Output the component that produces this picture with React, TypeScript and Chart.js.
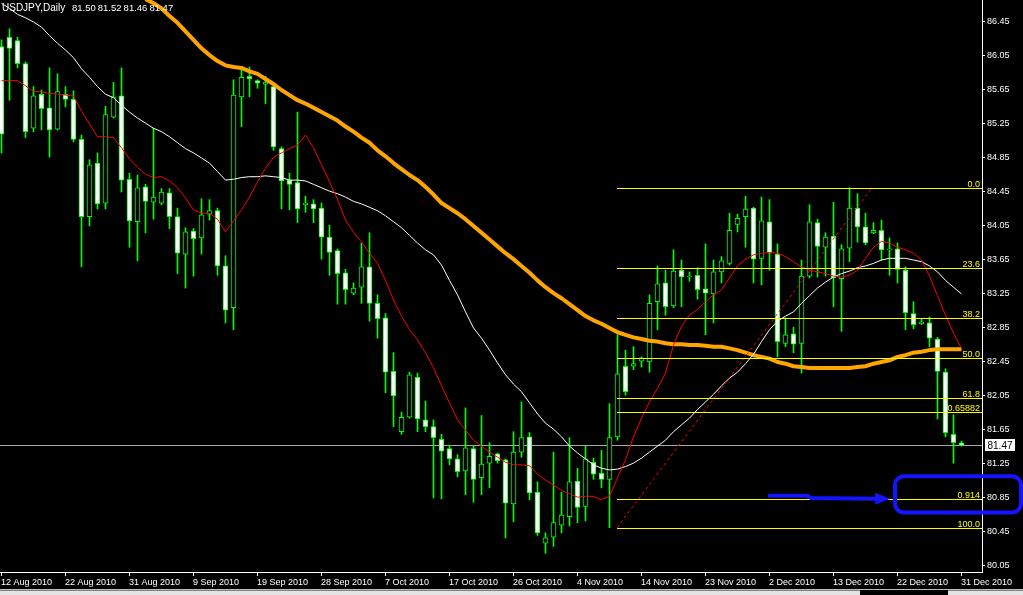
import React, { useEffect, useRef } from "react";
import { Chart, registerables } from "chart.js";

Chart.register(...registerables);

// ---------- data ----------
const symbol = "USDJPY,Daily";
const lastQuote = ["81.50", "81.52", "81.46", "81.47"];
const dateLabels = [
  "12 Aug 2010", "22 Aug 2010", "31 Aug 2010", "9 Sep 2010", "19 Sep 2010", "28 Sep 2010",
  "7 Oct 2010", "17 Oct 2010", "26 Oct 2010", "4 Nov 2010", "14 Nov 2010", "23 Nov 2010",
  "2 Dec 2010", "13 Dec 2010", "22 Dec 2010", "31 Dec 2010",
];
const dateLabelStep = 8;
const yTickValues = [80.05, 80.45, 80.85, 81.25, 81.65, 82.05, 82.45, 82.85, 83.25, 83.65, 84.05, 84.45, 84.85, 85.25, 85.65, 86.05, 86.45];

const opens = [
  86.16, 86.27, 86.23, 85.96, 85.20, 85.60, 85.44, 85.19, 85.60, 85.54,
  85.07, 84.16, 84.79, 84.32, 85.33, 85.58, 84.60, 84.10, 84.51, 84.33,
  84.32, 84.44, 84.16, 83.72, 83.99, 83.91, 84.19, 84.23, 83.58, 83.09,
  85.57, 85.81, 85.76, 85.72, 85.69, 84.96, 84.59, 84.56, 84.30, 84.31,
  84.26, 83.92, 83.76, 83.50, 83.26, 83.33, 83.57, 83.14, 82.97, 82.34,
  81.63, 81.80, 82.27, 81.77, 81.69, 81.54, 81.43, 81.31, 81.17, 81.43,
  81.09, 81.26, 81.37, 81.30, 80.78, 81.39, 81.57, 80.92, 80.32, 80.39,
  80.53, 80.63, 81.05, 80.75, 81.27, 81.14, 81.07, 81.57, 82.40, 82.40,
  82.46, 82.45, 83.16, 83.38, 83.11, 83.53, 83.45, 83.47, 83.31, 83.25,
  83.51, 83.61, 84.07, 84.16, 84.26, 83.67, 84.10, 83.72, 82.67, 82.78,
  82.67, 83.46, 84.09, 83.80, 83.93, 83.43, 83.79, 84.26, 84.04, 83.97,
  84.00, 83.77, 83.78, 83.53, 83.02, 82.90, 82.91, 82.72, 82.33, 81.60,
  81.50,
];
const highs = [
  86.24, 86.37, 86.27, 85.98, 85.69, 85.65, 85.91, 85.84, 85.69, 85.64,
  85.12, 84.83, 84.91, 85.46, 85.74, 85.91, 84.67, 84.65, 84.54, 85.20,
  84.49, 84.49, 84.26, 84.03, 84.02, 84.37, 84.36, 84.26, 83.70, 85.77,
  85.92, 85.92, 85.77, 85.81, 85.71, 84.98, 84.67, 85.39, 84.40, 84.36,
  84.32, 84.06, 83.78, 83.54, 83.38, 83.85, 83.97, 83.24, 83.02, 82.56,
  81.86, 82.33, 82.32, 81.99, 81.77, 81.60, 81.47, 81.36, 81.91, 81.47,
  81.82, 81.50, 81.38, 81.31, 81.63, 81.98, 81.62, 81.04, 80.44, 81.39,
  80.92, 81.56, 81.20, 81.46, 81.32, 81.41, 81.96, 82.77, 82.59, 82.63,
  82.51, 83.24, 83.58, 83.53, 83.77, 83.65, 83.51, 83.56, 83.84, 83.65,
  83.69, 84.20, 84.19, 84.40, 84.27, 84.39, 84.36, 83.84, 82.97, 82.86,
  83.65, 84.30, 84.13, 83.97, 84.33, 83.83, 84.50, 84.43, 84.20, 84.09,
  84.12, 83.91, 83.85, 83.57, 83.16, 82.96, 82.98, 82.74, 82.37, 81.83,
  81.52,
];
const lows = [
  84.91, 85.53, 85.91, 85.09, 85.16, 85.18, 84.86, 85.18, 85.45, 85.04,
  83.57, 84.05, 84.25, 84.25, 85.32, 84.45, 83.80, 83.64, 83.97, 84.13,
  84.30, 84.02, 83.49, 83.32, 83.46, 83.72, 84.12, 83.47, 82.91, 82.83,
  85.22, 85.57, 85.67, 85.49, 84.94, 84.25, 84.24, 84.09, 84.21, 84.09,
  83.66, 83.47, 83.13, 83.13, 83.24, 83.14, 82.93, 82.73, 82.09, 81.69,
  81.60, 81.79, 81.63, 81.63, 80.85, 80.84, 81.24, 81.10, 80.89, 80.80,
  80.89, 80.97, 81.26, 80.38, 80.57, 81.33, 80.83, 80.41, 80.20, 80.28,
  80.44, 80.52, 80.56, 80.58, 81.07, 80.97, 80.50, 81.53, 82.06, 82.36,
  82.39, 82.33, 82.83, 83.00, 83.09, 83.10, 83.40, 83.19, 82.77, 82.91,
  83.38, 83.59, 83.98, 83.80, 83.38, 83.36, 83.53, 82.51, 82.63, 82.56,
  82.32, 83.44, 83.45, 83.46, 83.10, 82.81, 83.63, 83.86, 83.83, 83.96,
  83.65, 83.47, 83.38, 82.83, 82.84, 82.89, 82.63, 81.78, 81.57, 81.26,
  81.46,
];
const closes = [
  85.13, 86.14, 85.96, 85.16, 85.58, 85.43, 85.18, 85.63, 85.54, 85.07,
  84.16, 84.77, 84.31, 85.36, 85.57, 84.59, 84.11, 84.50, 84.34, 84.39,
  84.45, 84.16, 83.73, 83.98, 83.90, 84.18, 84.23, 83.58, 83.06, 85.59,
  85.80, 85.78, 85.73, 85.74, 84.98, 84.58, 84.54, 84.25, 84.32, 84.25,
  83.92, 83.74, 83.49, 83.30, 83.32, 83.57, 83.14, 82.96, 82.33, 82.05,
  81.80, 82.30, 81.78, 81.69, 81.56, 81.40, 81.31, 81.16, 81.44, 81.07,
  81.25, 81.34, 81.29, 80.79, 81.39, 81.56, 80.91, 80.44, 80.38, 80.56,
  80.65, 81.04, 80.74, 81.31, 81.13, 81.07, 81.56, 82.31, 82.10, 82.43,
  82.50, 83.14, 83.37, 83.10, 83.52, 83.45, 83.46, 83.30, 83.26, 83.51,
  83.64, 84.00, 84.14, 84.25, 83.66, 84.11, 83.73, 82.69, 82.77, 82.66,
  83.46, 84.10, 83.81, 83.92, 83.44, 83.78, 84.26, 84.04, 83.85, 84.00,
  83.77, 83.78, 83.54, 83.03, 82.89, 82.92, 82.73, 82.34, 81.62, 81.50,
  81.47,
];

// moving averages (red = fast, white = medium, orange = slow)
const maFast = [
  85.76, 85.76, 85.76, 85.70, 85.63, 85.63, 85.61, 85.60, 85.59, 85.58,
  85.40, 85.25, 85.10, 85.10, 85.09, 84.97, 84.84, 84.74, 84.66, 84.62,
  84.63, 84.58, 84.50, 84.38, 84.24, 84.20, 84.20, 84.13, 83.98, 84.11,
  84.24, 84.39, 84.57, 84.73, 84.86, 84.91, 84.96, 85.00, 85.12, 84.97,
  84.77, 84.57, 84.36, 84.12, 83.98, 83.86, 83.73, 83.61, 83.41, 83.18,
  82.99, 82.83, 82.71, 82.56, 82.38, 82.17, 81.97, 81.77, 81.65, 81.53,
  81.46, 81.39, 81.33, 81.27, 81.24, 81.24, 81.23, 81.13, 81.06, 81.00,
  80.94, 80.90, 80.86, 80.87, 80.87, 80.83, 80.87, 81.09, 81.30, 81.57,
  81.79, 81.98, 82.14, 82.32, 82.65, 82.87, 83.00, 83.07, 83.16, 83.24,
  83.30, 83.44, 83.58, 83.66, 83.71, 83.73, 83.74, 83.73, 83.69, 83.63,
  83.57, 83.53, 83.51, 83.49, 83.46, 83.45, 83.47, 83.53, 83.67, 83.80,
  83.87, 83.85, 83.80, 83.77, 83.73, 83.65, 83.46, 83.23, 83.00, 82.79,
  82.61,
];
const maMid = [
  86.67, 86.61, 86.54, 86.50, 86.45, 86.39, 86.29, 86.20, 86.12, 86.03,
  85.90, 85.80, 85.69, 85.60, 85.56, 85.47, 85.39, 85.32, 85.26, 85.20,
  85.16, 85.10, 85.03, 84.96, 84.91, 84.85, 84.79, 84.69, 84.59, 84.60,
  84.62, 84.63, 84.63, 84.64, 84.63, 84.62, 84.59, 84.59, 84.58, 84.54,
  84.50, 84.46, 84.43, 84.39, 84.34, 84.31, 84.27, 84.23, 84.17, 84.10,
  84.03, 83.94, 83.85, 83.77, 83.71, 83.59, 83.41, 83.24, 83.04, 82.85,
  82.73, 82.59, 82.44, 82.30, 82.19, 82.10, 81.97, 81.84, 81.73, 81.66,
  81.57, 81.46, 81.38, 81.31, 81.24, 81.20, 81.18, 81.19, 81.22, 81.26,
  81.32, 81.39, 81.46, 81.53, 81.63, 81.71, 81.79, 81.89, 81.98, 82.07,
  82.17, 82.26, 82.33, 82.43, 82.54, 82.69, 82.83, 82.93, 82.99, 83.04,
  83.14, 83.23, 83.32, 83.39, 83.45, 83.49, 83.52, 83.56, 83.58, 83.61,
  83.65, 83.67, 83.67, 83.67, 83.65, 83.63, 83.58, 83.51, 83.41, 83.33,
  83.25,
];
const maSlow = [
  null, null, null, null, null, null, null, null, null, null,
  null, null, null, null, null, null, null, null, 86.72, 86.67,
  86.61, 86.52, 86.44, 86.34, 86.24, 86.14, 86.06, 85.99, 85.94, 85.92,
  85.91, 85.87, 85.84, 85.78, 85.72, 85.65, 85.59, 85.53, 85.49, 85.44,
  85.39, 85.34, 85.29, 85.22, 85.16, 85.09, 85.03, 84.94, 84.87, 84.79,
  84.72, 84.65, 84.59, 84.51, 84.42, 84.32, 84.26, 84.20, 84.13, 84.05,
  83.97, 83.89, 83.81, 83.73, 83.66, 83.58, 83.50, 83.41, 83.33, 83.26,
  83.20, 83.13, 83.06, 82.99, 82.94, 82.90, 82.85, 82.80, 82.77, 82.74,
  82.72, 82.70, 82.69, 82.67, 82.66, 82.66, 82.65, 82.65, 82.64, 82.63,
  82.63, 82.61, 82.59, 82.56, 82.53, 82.51, 82.49, 82.45, 82.43, 82.40,
  82.39, 82.38, 82.38, 82.38, 82.38, 82.38, 82.38, 82.39, 82.40, 82.43,
  82.45, 82.47, 82.51, 82.53, 82.56, 82.57, 82.59, 82.60, 82.60, 82.60,
  82.60,
];

// Fibonacci retracement
const fibHigh = 84.5;
const fibLow = 80.5;
const fibStartIndex = 76.94;
const fibEndIndex = 108.8;
const fibLevels = [0, 23.6, 38.2, 50, 61.8, 65.882, 91.4, 100];
const fibLabels = ["0.0", "23.6", "38.2", "50.0", "61.8", "0.65882", "0.914", "100.0"];

const bidPrice = 81.47;

// hand-drawn annotation (index, price)
const arrowPath: [number, number][] = [[95.8, 80.875], [100.7, 80.875], [101.2, 80.85], [109.2, 80.84]];
const arrowTip: [number, number] = [111.1, 80.84];
const boxCorners: [number, number][] = [[111.69, 81.105], [127.44, 80.68]];

// axis ranges
const X_MIN = -0.1875;
const X_MAX = 122.5625;
const Y_MIN = 79.9794;
const Y_MAX = 86.7088;
const AXIS_W = 41;
const AXIS_H = 23;

const FONT = '"Liberation Sans", Arial, sans-serif';
const GREEN = "#00ff00";
const YELLOW = "#ffff00";
const BLUE = "#1414ff";

const idx = opens.map((_, i) => i);

const mt4Plugin = {
  id: "mt4Decor",
  beforeDraw(chart: any) {
    const { ctx, width, height } = chart;
    ctx.save();
    ctx.fillStyle = "#000";
    ctx.fillRect(0, 0, width, height);
    ctx.restore();
  },
  beforeDatasetsDraw(chart: any) {
    const { ctx, chartArea, scales } = chart;
    const py = Math.round(scales.y.getPixelForValue(bidPrice)) + 0.5;
    ctx.save();
    ctx.strokeStyle = "#a8a8a8";
    ctx.lineWidth = 1;
    ctx.beginPath();
    ctx.moveTo(chartArea.left, py);
    ctx.lineTo(chartArea.right, py);
    ctx.stroke();
    ctx.restore();
  },
  afterDatasetsDraw(chart: any) {
    const { ctx, chartArea, scales } = chart;
    const x0 = Math.round(scales.x.getPixelForValue(fibStartIndex));
    ctx.save();
    ctx.strokeStyle = YELLOW;
    ctx.fillStyle = YELLOW;
    ctx.lineWidth = 1;
    ctx.font = `9px ${FONT}`;
    ctx.textAlign = "right";
    ctx.textBaseline = "alphabetic";
    fibLevels.forEach((lv, k) => {
      const price = fibHigh - ((fibHigh - fibLow) * lv) / 100;
      const py = Math.round(scales.y.getPixelForValue(price)) + 0.5;
      ctx.beginPath();
      ctx.moveTo(x0, py);
      ctx.lineTo(chartArea.right, py);
      ctx.stroke();
      ctx.fillText(fibLabels[k], chartArea.right - 2, py - 2);
    });
    ctx.restore();
  },
  afterDraw(chart: any) {
    const { ctx, chartArea, scales } = chart;
    const xs = scales.x;
    const ys = scales.y;
    ctx.save();
    // title
    ctx.fillStyle = "#fff";
    ctx.font = `10px ${FONT}`;
    ctx.textAlign = "left";
    ctx.textBaseline = "alphabetic";
    ctx.fillText(symbol, 2, 11);
    ctx.font = `9.5px ${FONT}`;
    lastQuote.forEach((q, k) => ctx.fillText(q, 72 + k * 25.8, 11));
    // date labels
    ctx.font = `9px ${FONT}`;
    dateLabels.forEach((t, k) => {
      const px = xs.getPixelForValue(k * dateLabelStep);
      ctx.fillText(t, Math.round(px) - 1, chartArea.bottom + 13);
    });
    // bid price tag
    const py = ys.getPixelForValue(bidPrice);
    ctx.fillStyle = "#fff";
    ctx.fillRect(chartArea.right + 3, Math.round(py) - 6, 30, 12);
    ctx.fillStyle = "#000";
    ctx.font = `10px ${FONT}`;
    ctx.fillText(bidPrice.toFixed(2), chartArea.right + 5.5, Math.round(py) + 4);
    // blue annotation
    const toPx = (p: [number, number]) => [xs.getPixelForValue(p[0]), ys.getPixelForValue(p[1])];
    ctx.strokeStyle = BLUE;
    ctx.fillStyle = BLUE;
    ctx.lineWidth = 4;
    ctx.lineJoin = "round";
    ctx.beginPath();
    arrowPath.forEach((p, k) => {
      const [ax, ay] = toPx(p);
      if (k === 0) ctx.moveTo(ax, ay);
      else ctx.lineTo(ax, ay);
    });
    ctx.stroke();
    const [bx, by] = toPx(arrowPath[arrowPath.length - 1]);
    const [tx, ty] = toPx(arrowTip);
    ctx.beginPath();
    ctx.moveTo(tx, ty);
    ctx.lineTo(bx, by - 6);
    ctx.lineTo(bx, by + 6);
    ctx.closePath();
    ctx.fill();
    const [c0x, c0y] = toPx(boxCorners[0]);
    const [c1x, c1y] = toPx(boxCorners[1]);
    ctx.beginPath();
    (ctx as any).roundRect(c0x, c0y, c1x - c0x, c1y - c0y, 9);
    ctx.stroke();
    // bottom window strip (terminal tabs)
    ctx.fillStyle = "#bdbdbd";
    ctx.fillRect(0, 589, chart.width, 1);
    ctx.fillStyle = "#e4e4e4";
    ctx.fillRect(0, 591, 860, 4);
    ctx.fillRect(948, 591, chart.width - 948, 4);
    ctx.fillStyle = "#808080";
    ctx.fillRect(0, 590, 860, 1);
    ctx.fillRect(948, 590, chart.width - 948, 1);
    ctx.restore();
  },
};

export default function App() {
  const ref = useRef<HTMLCanvasElement>(null);
  useEffect(() => {
    document.body.style.margin = "0";
    document.body.style.background = "#000";
    const canvas = ref.current!;
    const wicks = idx.map((i) => ({ x: i, y: [lows[i], highs[i]] }));
    const bodies = idx.map((i) => ({ x: i, y: [Math.min(opens[i], closes[i]), Math.max(opens[i], closes[i])] }));
    const bodyColors = idx.map((i) => (closes[i] < opens[i] ? "#ffffff" : "#000000"));
    const pts = (arr: (number | null)[]) =>
      arr.map((v, i) => (v === null ? null : { x: i, y: v })).filter((p) => p !== null);

    const chart = new Chart(canvas, {
      type: "bar",
      data: {
        datasets: [
          {
            type: "bar",
            data: wicks as any,
            backgroundColor: GREEN,
            borderWidth: 0,
            barThickness: 1,
            grouped: false,
            order: 6,
          } as any,
          {
            type: "bar",
            data: bodies as any,
            backgroundColor: bodyColors,
            borderColor: GREEN,
            borderWidth: 1,
            borderSkipped: false,
            barThickness: 5,
            minBarLength: 1,
            grouped: false,
            order: 5,
          } as any,
          {
            type: "line",
            data: pts(maSlow) as any,
            borderColor: "#ffa500",
            borderWidth: 4,
            pointRadius: 0,
            tension: 0,
            borderJoinStyle: "round",
            order: 4,
          } as any,
          {
            type: "line",
            data: pts(maMid) as any,
            borderColor: "#ffffff",
            borderWidth: 1,
            pointRadius: 0,
            tension: 0,
            order: 3,
          } as any,
          {
            type: "line",
            data: pts(maFast) as any,
            borderColor: "#ff0000",
            borderWidth: 1,
            pointRadius: 0,
            tension: 0,
            order: 2,
          } as any,
          {
            type: "line",
            data: [
              { x: fibStartIndex, y: fibLow },
              { x: fibEndIndex, y: fibHigh },
            ],
            borderColor: "#ff0000",
            borderWidth: 1,
            borderDash: [3, 3],
            pointRadius: 0,
            order: 1,
          } as any,
        ],
      },
      options: {
        responsive: false,
        maintainAspectRatio: false,
        animation: false,
        events: [],
        layout: { padding: 0, autoPadding: false } as any,
        plugins: { legend: { display: false }, tooltip: { enabled: false } },
        scales: {
          x: {
            type: "linear",
            min: X_MIN,
            max: X_MAX,
            bounds: "data",
            offset: false,
            afterBuildTicks: (s: any) => {
              s.ticks = dateLabels.map((_, k) => ({ value: k * dateLabelStep }));
            },
            afterFit: (s: any) => {
              s.height = AXIS_H;
              s.paddingLeft = 0;
              s.paddingRight = 0;
              s.paddingTop = 0;
              s.paddingBottom = 0;
            },
            ticks: { display: false },
            grid: { drawOnChartArea: false, drawTicks: true, tickLength: 4, color: "#ffffff", offset: false },
            border: { display: true, color: "#ffffff", width: 1 },
          } as any,
          y: {
            type: "linear",
            position: "right",
            min: Y_MIN,
            max: Y_MAX,
            bounds: "data",
            afterBuildTicks: (s: any) => {
              s.ticks = yTickValues.map((v) => ({ value: v }));
            },
            afterFit: (s: any) => {
              s.width = AXIS_W;
              s.paddingTop = 0;
              s.paddingBottom = 0;
              s.paddingLeft = 0;
              s.paddingRight = 0;
            },
            ticks: {
              color: "#ffffff",
              font: { family: FONT, size: 9 },
              padding: 2,
              autoSkip: false,
              callback: (v: any) => Number(v).toFixed(2),
            },
            grid: { drawOnChartArea: false, drawTicks: true, tickLength: 3, color: "#ffffff" },
            border: { display: true, color: "#ffffff", width: 1 },
          } as any,
        },
      },
      plugins: [mt4Plugin],
    });
    return () => chart.destroy();
  }, []);
  return (
    <canvas
      ref={ref}
      width={1023}
      height={595}
      style={{ display: "block", width: 1023, height: 595 }}
    />
  );
}
